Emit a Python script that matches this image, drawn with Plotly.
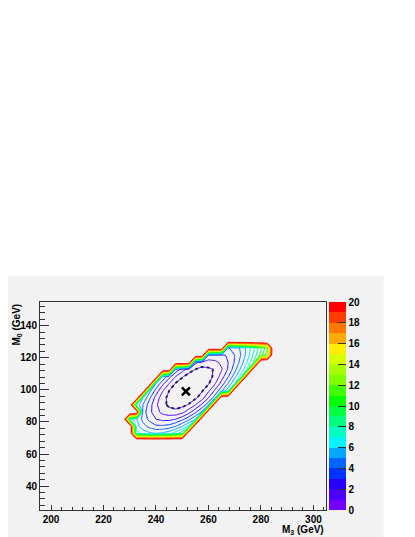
import plotly.graph_objects as go

# chi2 scan over (M3, M0)
# None = outside the scanned region (gets a high value before plotting)
_ = None

m3_gev = [227.5, 230.0, 232.5, 235.0, 237.5, 240.0, 242.5, 245.0, 247.5, 250.0,
          252.5, 255.0, 257.5, 260.0, 262.5, 265.0, 267.5, 270.0, 272.5, 275.0,
          277.5, 280.0, 282.5, 285.0, 287.5]
m0_gev = [68.4, 72.8, 77.2, 81.7, 86.1, 90.6, 95.0, 99.4, 103.9, 108.3,
          112.8, 117.2, 121.6, 126.1, 130.5]

row_068 = [_] * 25
row_073 = [_] * 2 + [7.5, 6.7, 6.2, 6.0, 6.2, 6.7, 7.6, 8.8] + [_] * 15
row_077 = [_] * 2 + [6.5, 5.4, 4.7, 4.2, 4.2, 4.4, 5.0, 6.0, 7.3] + [_] * 14
row_082 = [_] * 1 + [7.8, 6.1, 4.7, 3.7, 3.0, 2.7, 2.7, 3.0, 3.7, 4.7, 6.0] + [_] * 13
row_086 = [_] * 3 + [4.6, 3.3, 2.4, 1.7, 1.4, 1.3, 1.7, 2.6, 3.8, 5.2] + [_] * 12
row_091 = [_] * 2 + [6.9, 5.0, 3.5, 2.2, 1.3, 0.8, 0.6, 0.7, 1.1, 2.0, 3.2, 4.7] + [_] * 11
row_095 = [_] * 3 + [6.0, 4.2, 2.6, 1.4, 0.7, 0.3, 0.1, 0.4, 0.8, 1.5, 3.0, 4.6] + [_] * 10
row_099 = [_] * 4 + [5.4, 3.6, 2.1, 1.0, 0.5, 0.1, 0.0, 0.3, 0.9, 1.8, 3.2, 4.8, 6.7] + [_] * 8
row_104 = [_] * 5 + [5.0, 3.3, 2.0, 0.9, 0.5, 0.2, 0.2, 0.5, 0.9, 1.9, 3.4, 5.1, 7.0] + [_] * 7
row_108 = [_] * 6 + [5.0, 3.4, 2.0, 1.1, 0.6, 0.4, 0.4, 0.7, 1.2, 2.5, 3.9, 5.6, 7.6] + [_] * 6
row_113 = [_] * 8 + [3.8, 2.5, 1.5, 1.0, 0.7, 0.8, 1.1, 1.9, 3.1, 4.6, 6.3, 8.3] + [_] * 5
row_117 = [_] * 11 + [2.3, 1.6, 1.6, 1.8, 2.2, 3.0, 4.1, 5.5, 7.2, 9.3] + [_] * 4
row_122 = [_] * 13 + [2.8, 2.6, 2.7, 3.2, 4.0, 5.1, 6.6, 8.4, 10.5, 12.9] + [_] * 2
row_126 = [_] * 16 + [3.9, 4.4, 5.2, 6.4, 7.9, 9.7, 11.8] + [_] * 2
row_131 = [_] * 25

best_fit = (251.4, 99.0)

OUTSIDE = 24.0
rows = [row_068, row_073, row_077, row_082, row_086, row_091, row_095, row_099,
        row_104, row_108, row_113, row_117, row_122, row_126, row_131]
chi2 = [[OUTSIDE if v is None else v for v in r] for r in rows]

# ROOT-like rainbow palette, one colour per unit band 0..20
palette = ["#7300ff", "#4d00ff", "#2600ff", "#0033ff", "#0066ff",
           "#00a8ff", "#00f5ff", "#00ffc0", "#00ff80", "#00ff40",
           "#00ff00", "#40ff00", "#80ff00", "#a8ff00", "#d8ff00",
           "#ffee00", "#ffaa00", "#ff7700", "#ff3c00", "#ff0000"]

band_scale = []
for i, c in enumerate(palette):
    band_scale.append([i / 20, c])
    band_scale.append([(i + 1) / 20, c])
line_scale = [[i / 19, c] for i, c in enumerate(palette)]

BG = "#f2f2f2"
font_b = dict(family="Liberation Sans, Arial, sans-serif", size=10, color="black", weight="bold")

fig = go.Figure()

fig.add_trace(go.Contour(
    x=m3_gev, y=m0_gev, z=chi2,
    zmin=1, zmax=20, colorscale=line_scale,
    contours=dict(start=1, end=20, size=1, coloring="lines"),
    line=dict(width=1, smoothing=0),
    showscale=False, hoverinfo="skip"))

# 1 sigma contour, dotted
fig.add_trace(go.Contour(
    x=m3_gev, y=m0_gev, z=chi2,
    contours=dict(start=1, end=1, size=1, coloring="none"),
    line=dict(width=1.8, color="#1a1a55", dash="dot", smoothing=0),
    showscale=False, hoverinfo="skip"))

fig.add_trace(go.Scatter(
    x=[best_fit[0]], y=[best_fit[1]], mode="markers",
    marker=dict(symbol="x-thin", size=8, line=dict(width=2.5, color="black")),
    showlegend=False, hoverinfo="skip"))

# colour bar only
fig.add_trace(go.Scatter(
    x=[None], y=[None], mode="markers", showlegend=False, hoverinfo="skip",
    marker=dict(color=[0], cmin=0, cmax=20, colorscale=band_scale, showscale=True,
                colorbar=dict(thickness=17, thicknessmode="pixels", len=1, lenmode="fraction",
                              x=1.0104, xanchor="left", xpad=0, y=0.5, yanchor="middle", ypad=0,
                              outlinewidth=0, tickvals=list(range(0, 21, 2)),
                              ticks="inside", ticklen=8, tickcolor="#333333", tickwidth=1,
                              tickfont=font_b))))

axis_common = dict(showgrid=False, zeroline=False, showline=True, mirror=True,
                   linecolor="#333333", linewidth=1, ticks="inside",
                   tickcolor="#333333", tickfont=font_b)

fig.update_xaxes(range=[195.8, 304.8], dtick=20, tick0=200, ticklen=5, **axis_common,
                 minor=dict(dtick=4, tick0=200, ticks="inside", ticklen=3, tickcolor="#333333"))
fig.update_yaxes(range=[25.1, 154.75], dtick=20, tick0=40, ticklen=9, **axis_common,
                 minor=dict(dtick=4, tick0=40, ticks="inside", ticklen=4.5, tickcolor="#333333"))

# the page adds an 8px body margin, so the figure is 8px smaller than the window
fig.update_layout(
    width=407, height=529,
    margin=dict(l=30, r=89, t=294, b=26),
    paper_bgcolor="white", plot_bgcolor=BG,
    showlegend=False,
    shapes=[dict(type="rect", xref="paper", yref="paper", x0=-0.14, x1=1.2014,
                 y0=-0.13, y1=1.124, fillcolor=BG, line=dict(width=0), layer="below")],
    annotations=[
        dict(text="M<sub>3</sub> (GeV)", xref="paper", yref="paper", x=1.0, y=-0.098,
             xanchor="right", yanchor="middle", showarrow=False, font=font_b),
        dict(text="M<sub>0</sub> (GeV)", xref="paper", yref="paper", x=-0.082, y=1.0,
             xanchor="center", yanchor="top", textangle=-90, showarrow=False, font=font_b),
    ],
)

fig.write_html("out.html")
